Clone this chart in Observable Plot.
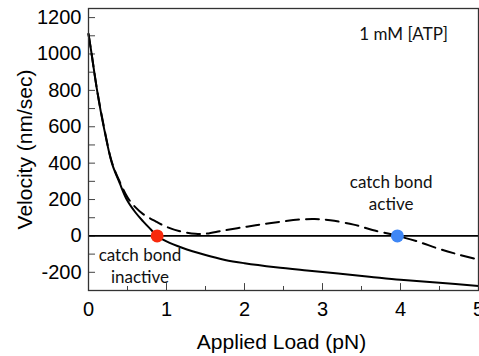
<!DOCTYPE html>
<html>
<head>
<meta charset="utf-8">
<script src="https://cdn.jsdelivr.net/npm/d3@7"></script>
<script src="https://cdn.jsdelivr.net/npm/@observablehq/plot@0.6"></script>
<style>
  html, body { margin: 0; padding: 0; background: #fff; }
</style>
</head>
<body>
<div id="chart"></div>
<script>
// Solid curve (catch bond inactive)
const solidLoad = [0, 0.04, 0.11, 0.2, 0.3, 0.4, 0.49, 0.6, 0.7, 0.8, 0.88, 1.0, 1.2, 1.5, 1.75, 2.0, 2.4, 2.8, 3.2, 3.6, 4.0, 4.5, 5];
const solidVel  = [1110, 1000, 800, 590, 400, 290, 200, 130, 80, 35, 0, -30, -65, -105, -132, -150, -172, -190, -207, -224, -241, -258, -275];
// Dashed curve (catch bond active)
const dashLoad = [0, 0.04, 0.11, 0.2, 0.3, 0.4, 0.5, 0.6, 0.7, 0.86, 1.0, 1.16, 1.37, 1.5, 1.72, 2.03, 2.32, 2.71, 2.9, 3.1, 3.4, 3.64, 3.96, 4.2, 4.5, 4.75, 5];
const dashVel  = [1110, 1000, 802, 595, 405, 298, 212, 158, 120, 80, 50, 27, 12, 12, 29, 51, 70, 90, 93, 86, 62, 33, 0, -28, -72, -103, -131];
// Highlighted points
const pointLoad = [0.88, 3.96];
const pointVel = [0, 0];
const pointColor = ["#f8290c", "#3f87f5"];
// Ticks
const xMajor = [0, 1, 2, 3, 4, 5];
const xMinor = [0.5, 1.5, 2.5, 3.5, 4.5];
const yMajor = [-200, 0, 200, 400, 600, 800, 1000, 1200];
const yMinor = [-100, 100, 300, 500, 700, 900, 1100];
// Annotations
const annotText = ["catch bond\ninactive", "catch bond\nactive", "1 mM [ATP]"];
const annotLoad = [0.66, 3.88, 4.04];
const annotVel = [-159, 244, 1115];

const solid = solidLoad.map((x, i) => ({x, y: solidVel[i]}));
const dashed = dashLoad.map((x, i) => ({x, y: dashVel[i]}));
const points = pointLoad.map((x, i) => ({x, y: pointVel[i], c: pointColor[i]}));
const annots = annotText.map((t, i) => ({t, x: annotLoad[i], y: annotVel[i]}));

const chart = Plot.plot({
  width: 479,
  height: 356,
  marginLeft: 88,
  marginRight: 1,
  marginTop: 8,
  marginBottom: 66,
  style: {fontFamily: "'Liberation Sans', Arial, sans-serif", fontSize: "20px", color: "#000", background: "#fff"},
  x: {domain: [0, 5]},
  y: {domain: [-300, 1250]},
  marks: [
    Plot.axisX({ticks: xMajor, tickFormat: d => String(d), tickSize: 0, tickPadding: 11, label: null, fontSize: 20}),
    Plot.axisY({ticks: yMajor, tickFormat: d => String(d).replace("−", "-"), tickSize: 0, tickPadding: 7, label: null, fontSize: 20}),
    // inward ticks
    Plot.ruleY(yMajor, {y: d => d, x1: 0, x2: 0.09, stroke: "#444", strokeWidth: 1}),
    Plot.ruleY(yMinor, {y: d => d, x1: 0, x2: 0.09, stroke: "#444", strokeWidth: 1}),
    Plot.ruleX(xMajor, {x: d => d, y1: -300, y2: -262, stroke: "#444", strokeWidth: 1}),
    Plot.ruleX(xMinor, {x: d => d, y1: -300, y2: -278, stroke: "#444", strokeWidth: 1}),
    Plot.ruleY([0], {x1: 0, x2: 5, stroke: "#000", strokeWidth: 1.6}),
    Plot.line(solid, {x: "x", y: "y", curve: "catmull-rom", stroke: "#000", strokeWidth: 2}),
    Plot.line(dashed, {x: "x", y: "y", curve: "catmull-rom", stroke: "#000", strokeWidth: 2, strokeDasharray: "13,7"}),
    Plot.dot(points, {x: "x", y: "y", fill: "c", r: 6.5}),
    Plot.text(annots, {x: "x", y: "y", text: "t", fontFamily: "Lato, 'Open Sans', sans-serif", fontSize: 17, lineHeight: 1.3, fill: "#111", textAnchor: "middle", lineAnchor: "middle"}),
    Plot.frame({stroke: "#333", strokeWidth: 1.3}),
    Plot.text(["Applied Load (pN)"], {frameAnchor: "bottom", dy: 52, dx: -2, fontSize: 21, textAnchor: "middle", lineAnchor: "middle", fill: "#000"}),
    Plot.text(["Velocity (nm/sec)"], {frameAnchor: "left", dx: -63, rotate: -90, fontSize: 21, textAnchor: "middle", lineAnchor: "middle", fill: "#000"})
  ]
});
document.getElementById("chart").appendChild(chart);
</script>
</body>
</html>
